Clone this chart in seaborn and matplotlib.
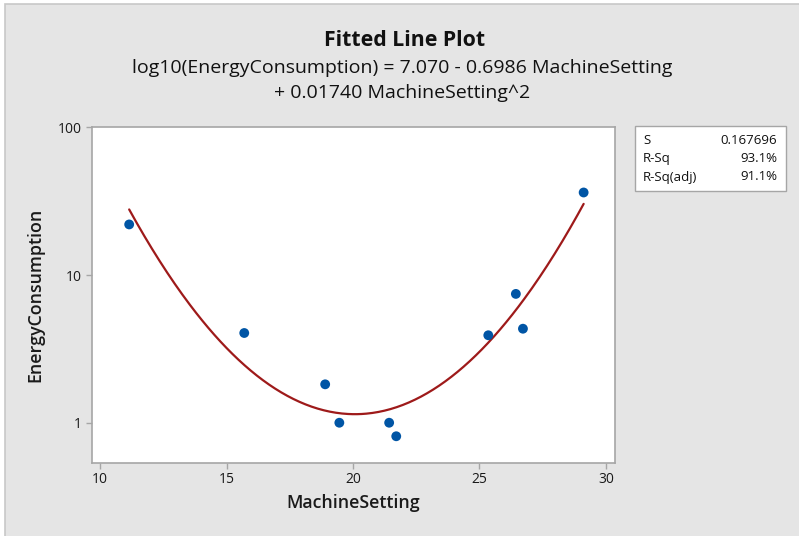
import numpy as np
import pandas as pd
import matplotlib
matplotlib.use("Agg")
import matplotlib.pyplot as plt
from matplotlib.patches import Rectangle
from matplotlib.ticker import FixedLocator, FixedFormatter, NullLocator
import seaborn as sns

# ---- data ----
machine_setting = [11.15, 15.70, 18.90, 19.46, 21.43, 21.71, 25.35, 26.44, 26.72, 29.12]
energy_consumption = [22.0, 4.05, 1.82, 1.00, 1.00, 0.81, 3.91, 7.45, 4.33, 36.2]
coef_const = 7.070
coef_lin = -0.6986
coef_quad = 0.01740
stat_names = ["S", "R-Sq", "R-Sq(adj)"]
stat_values = ["0.167696", "93.1%", "91.1%"]
x_ticks = [10, 15, 20, 25, 30]
y_ticks = [1, 10, 100]
y_tick_labels = ["1", "10", "100"]

sns.set_theme(style="ticks")
FONT = ["Open Sans", "DejaVu Sans"]
plt.rcParams["font.family"] = FONT

W, H = 799, 536
fig = plt.figure(figsize=(W / 100, H / 100), dpi=100)
fig.patch.set_facecolor("white")

def fx(px):
    return px / W

def fy(py):
    return 1 - py / H

# grey panel with border (right/bottom edges run off the figure)
panel = Rectangle((fx(5), -0.05), 1.05, fy(4) + 0.05, transform=fig.transFigure,
                  facecolor="#e5e5e5", edgecolor="#c8c8c8", linewidth=1.2, zorder=-10)
fig.patches.append(panel)

ax = fig.add_axes([fx(92), fy(462.5), fx(615) - fx(92), fy(127.3) - fy(462.5)])
ax.set_zorder(1)
ax.set_facecolor("white")

df = pd.DataFrame({"MachineSetting": machine_setting, "EnergyConsumption": energy_consumption})

xf = np.linspace(min(machine_setting), max(machine_setting), 300)
yf = 10 ** (coef_const + coef_lin * xf + coef_quad * xf ** 2)
fit = pd.DataFrame({"MachineSetting": xf, "EnergyConsumption": yf})

sns.lineplot(data=fit, x="MachineSetting", y="EnergyConsumption", ax=ax,
             color="#9e1a1a", linewidth=1.6, zorder=2)
sns.scatterplot(data=df, x="MachineSetting", y="EnergyConsumption", ax=ax,
                color="#0055a5", s=50, edgecolor="none", zorder=3)

ax.set_yscale("log")
ax.set_xlim(9.68, 30.36)
ax.set_ylim(0.538, 100)
ax.xaxis.set_major_locator(FixedLocator(x_ticks))
ax.yaxis.set_major_locator(FixedLocator(y_ticks))
ax.yaxis.set_major_formatter(FixedFormatter(y_tick_labels))
ax.yaxis.set_minor_locator(NullLocator())

for sp in ax.spines.values():
    sp.set_visible(True)
    sp.set_color("#a6a6a6")
    sp.set_linewidth(1.2)
ax.tick_params(axis="both", which="major", direction="out", length=4, width=1,
               color="#a6a6a6", labelsize=10, labelcolor="#1a1a1a", pad=3)

ax.set_xlabel("MachineSetting", fontsize=12.8, fontweight="semibold", color="#1a1a1a", labelpad=5)
ax.set_ylabel("EnergyConsumption", fontsize=12.8, fontweight="semibold", color="#1a1a1a", labelpad=10)

# titles
fig.text(fx(405), fy(40), "Fitted Line Plot", ha="center", va="center",
         fontsize=15.3, fontweight="bold", color="#111111")
fig.text(fx(402), fy(68), "log10(EnergyConsumption) = 7.070 - 0.6986 MachineSetting",
         ha="center", va="center", fontsize=14, color="#111111")
fig.text(fx(402), fy(93), "+ 0.01740 MachineSetting^2",
         ha="center", va="center", fontsize=14, color="#111111")

# stats box
box = Rectangle((fx(635), fy(191)), fx(786) - fx(635), fy(126) - fy(191),
                transform=fig.transFigure, facecolor="white", edgecolor="#a6a6a6",
                linewidth=1.0, zorder=1)
fig.patches.append(box)
for i, (n, v) in enumerate(zip(stat_names, stat_values)):
    yy = fy(141 + 18 * i)
    fig.text(fx(643), yy, n, ha="left", va="center", fontsize=9.5, color="#111111", zorder=2)
    fig.text(fx(777), yy, v, ha="right", va="center", fontsize=9.5, color="#111111", zorder=2)

fig.savefig("out.png", dpi=100, facecolor=fig.get_facecolor())
